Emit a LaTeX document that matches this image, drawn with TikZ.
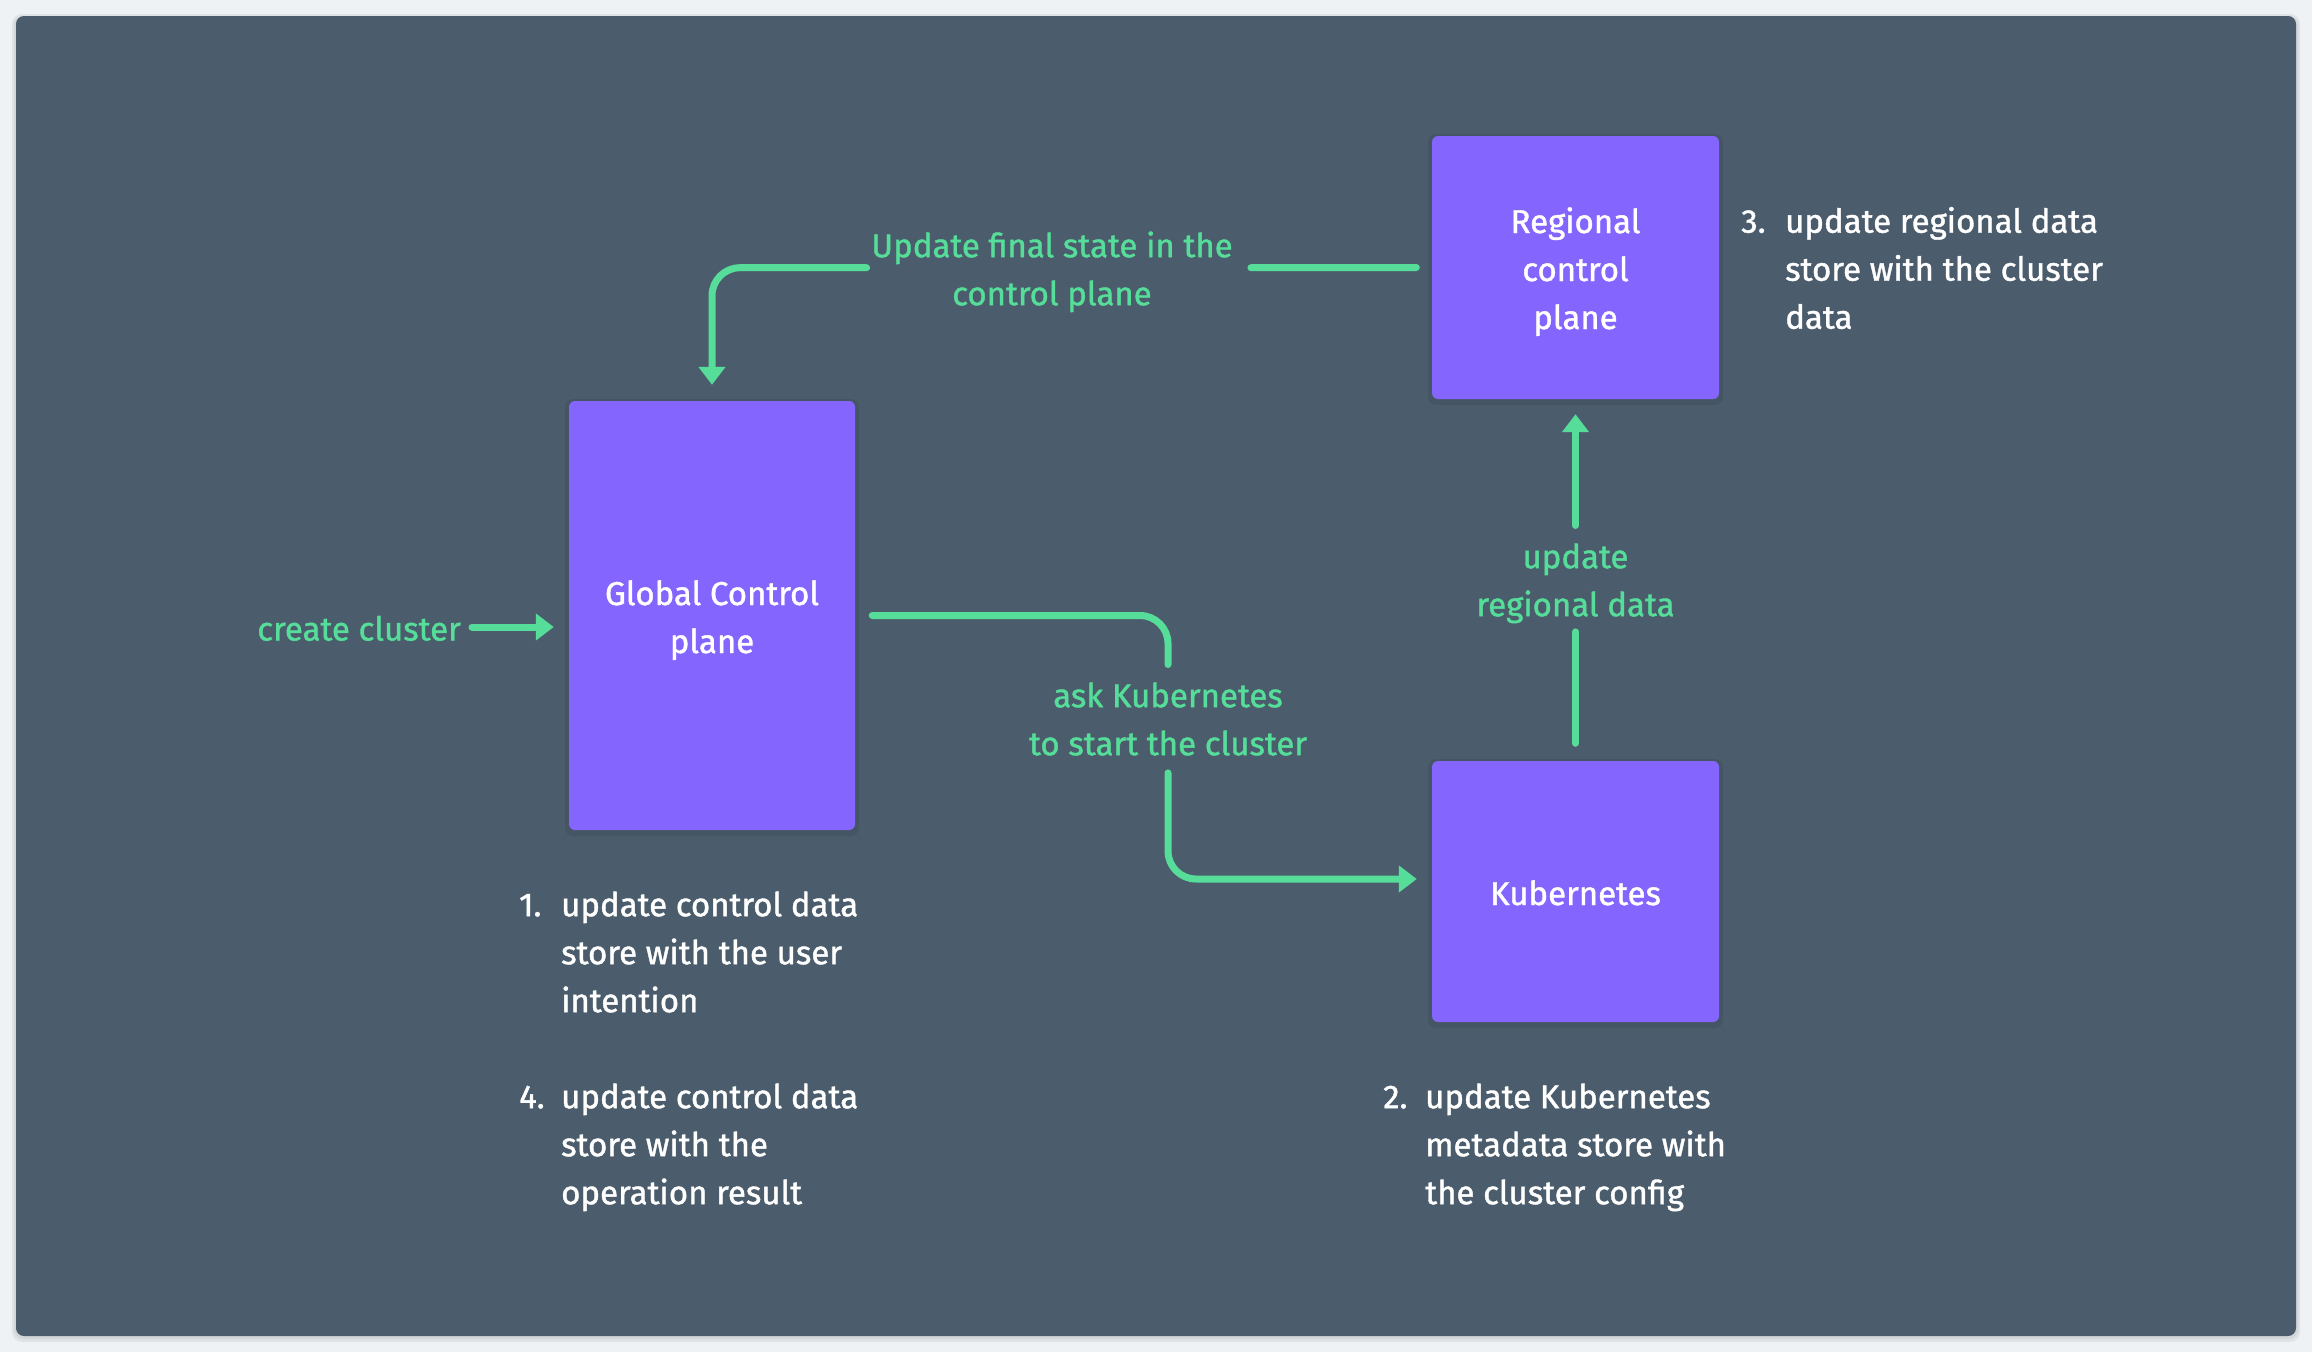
\documentclass[tikz,border=0pt]{standalone}
\usepackage{fontspec}
\setmainfont{Fira Sans}[FakeBold=1.2]
\usetikzlibrary{arrows.meta}
\definecolor{pagebg}{HTML}{EEF2F5}
\definecolor{panelbg}{HTML}{4B5D6C}
\definecolor{boxpurple}{HTML}{8466FF}
\definecolor{flowgreen}{HTML}{55DD99}
\newcommand\dgfont{\fontsize{33}{48}\selectfont}
\newcommand\lstrut{\vrule height 37.5pt depth 10.5pt width 0pt}
\newcommand\numind{\makebox[42pt][l]{}}
\begin{document}
\begin{tikzpicture}[x=1pt,y=-1pt,
  box/.style={fill=boxpurple, rounded corners=6pt, draw=none, text=white,
    font=\dgfont, align=center, inner sep=0pt},
  glabel/.style={text=flowgreen, font=\dgfont, align=center, inner sep=0pt},
  note/.style={text=white, font=\dgfont, align=left, inner sep=0pt, anchor=north west},
  flowline/.style={draw=flowgreen, line width=7pt, line cap=round},
  flow/.style={flowline, -{Triangle[length=18pt,width=26pt]}},
]
% page and panel
\fill[pagebg] (0,0) rectangle (2312,1352);
\fill[black, opacity=0.06, rounded corners=10pt] (12,14) rectangle (2300,1342);
\fill[black, opacity=0.05, rounded corners=9pt] (14,16) rectangle (2298,1339);
\fill[panelbg, rounded corners=8pt] (16,16) rectangle (2296,1336);

% box shadows
\foreach \a/\b/\c/\d in {569/401/855/830, 1432/136/1719/399, 1432/761/1719/1022}{
  \fill[black, opacity=0.08, rounded corners=8pt] (\a-4,\b-2) rectangle (\c+4,\d+6);
}

% boxes
\node[box, minimum width=286pt, minimum height=429pt] (gcp) at (712,615.5)
  {\lstrut Global Control\\\lstrut plane};
\node[box, minimum width=287pt, minimum height=263pt] (rcp) at (1575.5,267.5)
  {\lstrut Regional\\\lstrut control\\\lstrut plane};
\node[box, minimum width=287pt, minimum height=261pt] (kub) at (1575.5,891.5)
  {\lstrut Kubernetes};

% connector labels
\node[glabel, anchor=east] (cc) at (461,627) {\lstrut create cluster};
\node[glabel, anchor=north] (fs) at (1052,219.5)
  {\lstrut Update final state in the\\\lstrut control plane};
\node[glabel, anchor=north] (ask) at (1168,669.5)
  {\lstrut ask Kubernetes\\\lstrut to start the cluster};
\node[glabel, anchor=north] (upd) at (1575.5,530.5)
  {\lstrut update\\\lstrut regional data};

% notes
\node[note] (n1) at (519,878.5)
  {\lstrut\makebox[42pt][l]{1.}update control data\\\lstrut\numind store with the user\\\lstrut\numind intention};
\node[note] (n4) at (519,1070.5)
  {\lstrut\makebox[42pt][l]{4.}update control data\\\lstrut\numind store with the\\\lstrut\numind operation result};
\node[note] (n2) at (1383,1070.5)
  {\lstrut\makebox[42pt][l]{2.}update Kubernetes\\\lstrut\numind metadata store with\\\lstrut\numind the cluster config};
\node[note] (n3) at (1741,195)
  {\lstrut\makebox[44pt][l]{3.}update regional data\\\lstrut\makebox[44pt][l]{}store with the cluster\\\lstrut\makebox[44pt][l]{}data};

% connectors
\draw[flow] ([xshift=11pt]cc.east) -- ([shift={(-15,11.5)}]gcp.west);
\draw[flowline, rounded corners=28pt] ([xshift=17pt]gcp.east) -| ([yshift=5pt]ask.north);
\draw[flow, rounded corners=28pt] ([yshift=-7pt]ask.south) |- ([shift={(-15,-12.5)}]kub.west);
\draw[flowline] ([yshift=17.5pt]kub.north) -- ([yshift=-5pt]upd.south);
\draw[flow] ([yshift=5pt]upd.north) -- ([yshift=-15pt]rcp.south);
\draw[flowline] ([xshift=-15.5pt]rcp.west) -- ([xshift=18pt]fs.east);
\draw[flow, rounded corners=28pt] ([xshift=-4.5pt]fs.west) -| ([yshift=16pt]gcp.north);
\end{tikzpicture}
\end{document}
